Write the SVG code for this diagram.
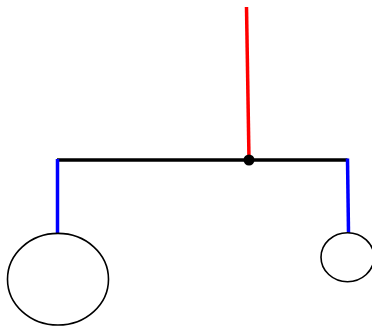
<svg xmlns="http://www.w3.org/2000/svg" width="372" height="327" viewBox="0 0 372 327">
<style>
.bar{stroke:#000;stroke-width:3.5;fill:none}
.red{stroke:#ff0000;stroke-width:3.5;fill:none}
.blue{stroke:#0000ff;stroke-width:3.5;fill:none}
.node{fill:#fff;stroke:#000;stroke-width:1.6}
</style>
<rect width="372" height="327" fill="#fff"/>
<g id="connectors">
<line class="red" x1="246.5" y1="7" x2="249" y2="160"/>
<line class="bar" x1="57" y1="160" x2="347.5" y2="160"/>
<line class="blue" x1="57.5" y1="159" x2="57.5" y2="234"/>
<line class="blue" x1="347.5" y1="158.5" x2="348.5" y2="233"/>
<circle cx="249" cy="160" r="5.5" fill="#000"/>
</g>
<g id="node-left">
<ellipse class="node" cx="58" cy="279.2" rx="50.5" ry="45.8"/>
</g>
<g id="node-right">
<ellipse class="node" cx="347.5" cy="257.2" rx="26.5" ry="24.5"/>
</g>
</svg>
